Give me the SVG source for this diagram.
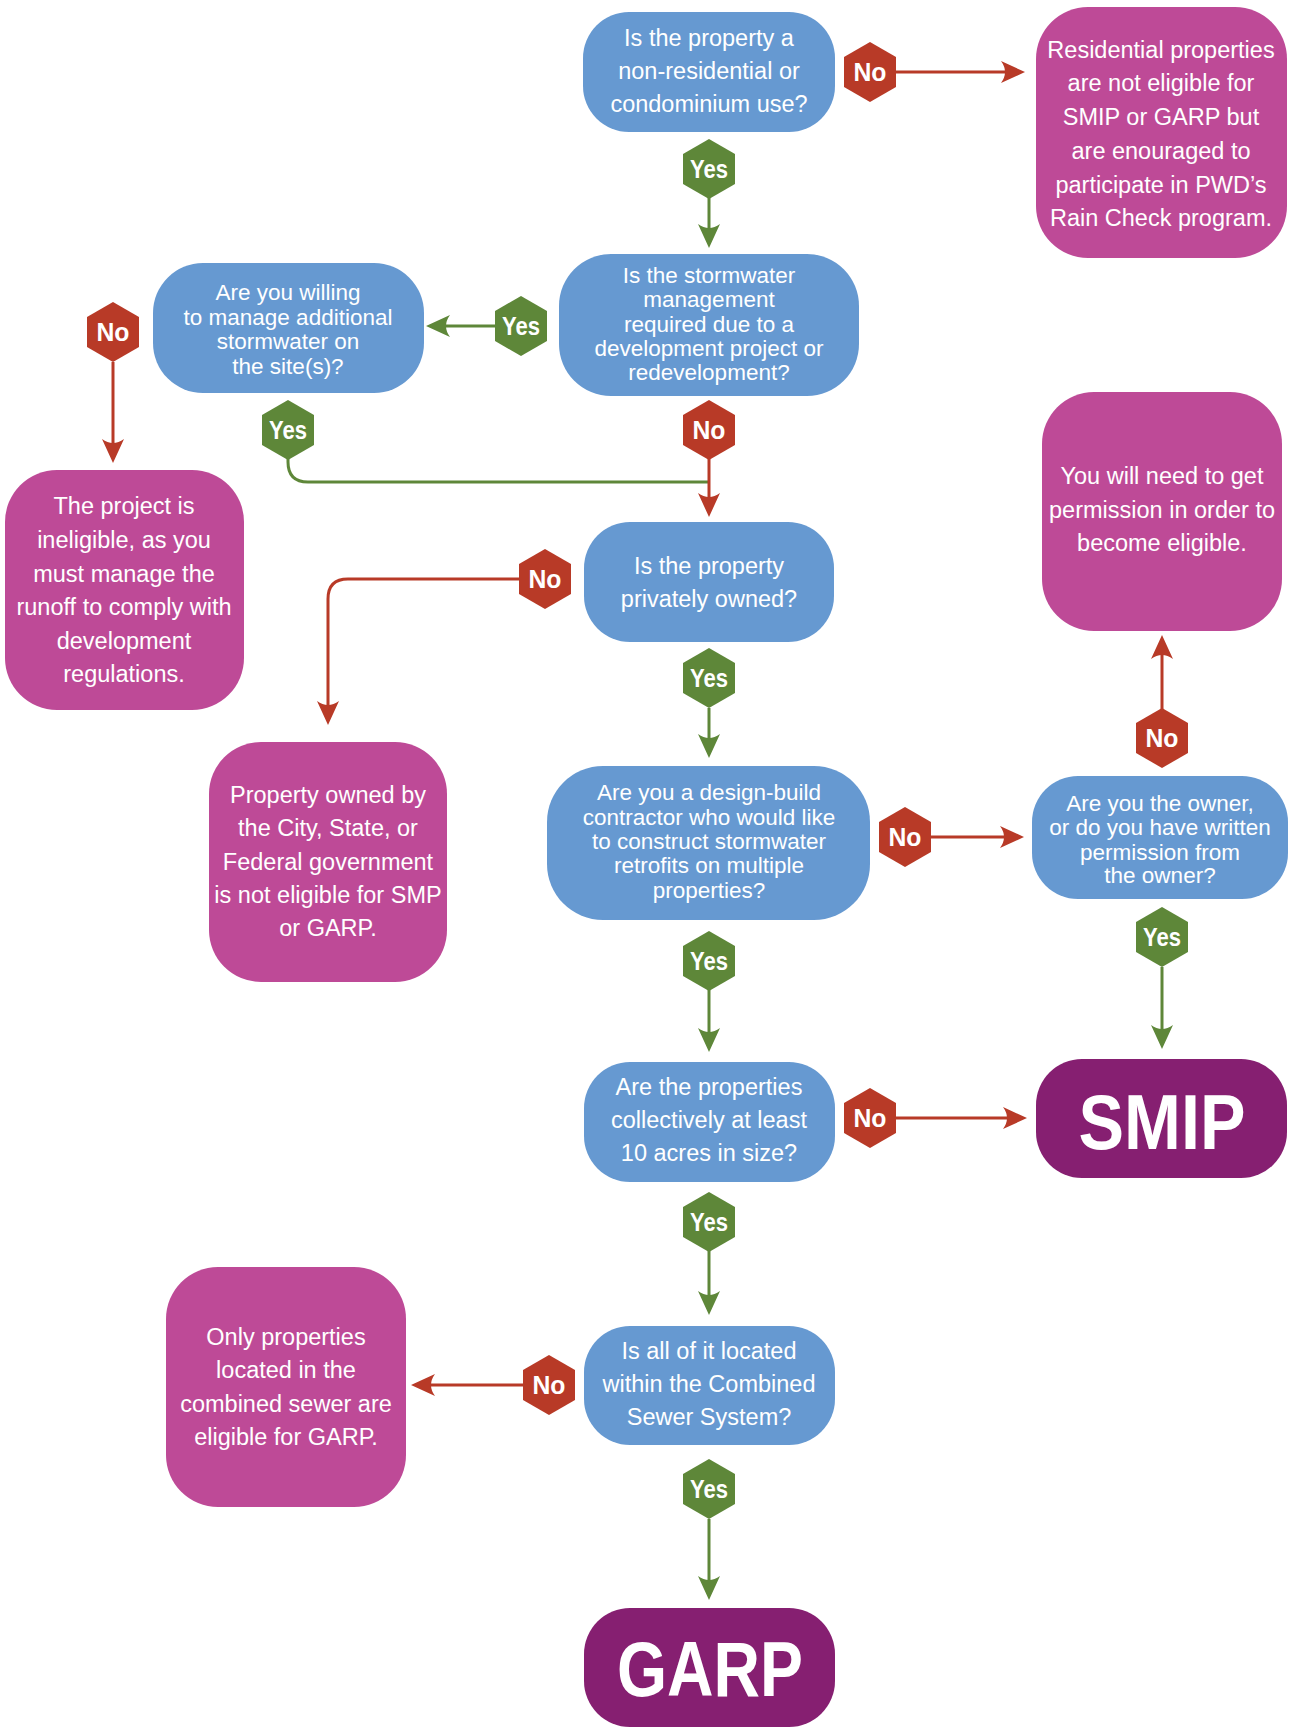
<svg xmlns="http://www.w3.org/2000/svg" xmlns:xlink="http://www.w3.org/1999/xlink" width="1290" height="1733" viewBox="0 0 1290 1733">
<style>
.q{fill:#6699D1}
.r{fill:#BE4A97}
.p{fill:#861F71}
.hn{fill:#B83A27}
.hy{fill:#5E8739}
.t{font-family:"Liberation Sans",Arial,sans-serif;fill:#fff;text-anchor:middle;font-size:23.5px}
.s{font-size:22.5px}
.h{font-family:"Liberation Sans",Arial,sans-serif;fill:#fff;text-anchor:middle;font-weight:bold;font-size:26px}
.big{font-family:"Liberation Sans",Arial,sans-serif;fill:#fff;text-anchor:middle;font-weight:bold;font-size:77px}
.lr{stroke:#B83A27;stroke-width:3;fill:none}
.lg{stroke:#5E8739;stroke-width:3;fill:none}
</style>
<defs>
<polygon id="hex" points="0,-30 26,-15 26,15 0,30 -26,15 -26,-15"/>
<marker id="ar" markerUnits="userSpaceOnUse" markerWidth="24" markerHeight="22" viewBox="0 0 24 22" refX="16" refY="11" orient="auto"><path d="M24,11 L0,0 Q8,11 0,22 Z" fill="#B83A27"/></marker>
<marker id="ag" markerUnits="userSpaceOnUse" markerWidth="24" markerHeight="22" viewBox="0 0 24 22" refX="16" refY="11" orient="auto"><path d="M24,11 L0,0 Q8,11 0,22 Z" fill="#5E8739"/></marker>
</defs>
<rect width="1290" height="1733" fill="#fff"/>

<g id="connectors">
<path class="lr" d="M896,72 H1017" marker-end="url(#ar)"/>
<path class="lg" d="M709,198 V240" marker-end="url(#ag)"/>
<path class="lg" d="M495,326 H434" marker-end="url(#ag)"/>
<path class="lr" d="M113,362 V455" marker-end="url(#ar)"/>
<path class="lg" d="M288,459 V462 Q288,482 308,482 H709"/>
<path class="lr" d="M709,459 V509" marker-end="url(#ar)"/>
<path class="lr" d="M519,579 H348 Q328,579 328,599 V717" marker-end="url(#ar)"/>
<path class="lg" d="M709,708 V750" marker-end="url(#ag)"/>
<path class="lr" d="M931,837 H1016" marker-end="url(#ar)"/>
<path class="lr" d="M1162,709 V643" marker-end="url(#ar)"/>
<path class="lg" d="M1162,967 V1041" marker-end="url(#ag)"/>
<path class="lg" d="M709,990 V1044" marker-end="url(#ag)"/>
<path class="lr" d="M896,1118 H1019" marker-end="url(#ar)"/>
<path class="lg" d="M709,1251 V1307" marker-end="url(#ag)"/>
<path class="lr" d="M523,1385 H419" marker-end="url(#ar)"/>
<path class="lg" d="M709,1519 V1592" marker-end="url(#ag)"/>
</g>

<g id="q1">
<rect class="q" x="583" y="12" width="252" height="120" rx="46"/>
<text class="t"><tspan x="709" y="46">Is the property a</tspan><tspan x="709" y="79">non-residential or</tspan><tspan x="709" y="112">condominium use?</tspan></text>
</g>
<g id="h1no"><use href="#hex" xlink:href="#hex" class="hn" x="870" y="72"/><text class="h" x="870" y="81" textLength="33" lengthAdjust="spacingAndGlyphs">No</text></g>
<g id="residential">
<rect class="r" x="1036" y="7" width="251" height="251" rx="52"/>
<text class="t"><tspan x="1161" y="58">Residential properties</tspan><tspan x="1161" y="91">are not eligible for</tspan><tspan x="1161" y="125">SMIP or GARP but</tspan><tspan x="1161" y="159">are enouraged to</tspan><tspan x="1161" y="193">participate in PWD’s</tspan><tspan x="1161" y="226">Rain Check program.</tspan></text>
</g>
<g id="h1yes"><use href="#hex" xlink:href="#hex" class="hy" x="709" y="169"/><text class="h" x="709" y="178" textLength="38" lengthAdjust="spacingAndGlyphs">Yes</text></g>

<g id="q2">
<rect class="q" x="559" y="254" width="300" height="142" rx="52"/>
<text class="t s"><tspan x="709" y="283">Is the stormwater</tspan><tspan x="709" y="307">management</tspan><tspan x="709" y="332">required due to a</tspan><tspan x="709" y="356">development project or</tspan><tspan x="709" y="380">redevelopment?</tspan></text>
</g>
<g id="h2yes"><use href="#hex" xlink:href="#hex" class="hy" x="521" y="326"/><text class="h" x="521" y="335" textLength="38" lengthAdjust="spacingAndGlyphs">Yes</text></g>
<g id="h2no"><use href="#hex" xlink:href="#hex" class="hn" x="709" y="430"/><text class="h" x="709" y="439" textLength="33" lengthAdjust="spacingAndGlyphs">No</text></g>

<g id="q3">
<rect class="q" x="153" y="263" width="271" height="130" rx="50"/>
<text class="t s"><tspan x="288" y="300">Are you willing</tspan><tspan x="288" y="325">to manage additional</tspan><tspan x="288" y="349">stormwater on</tspan><tspan x="288" y="374">the site(s)?</tspan></text>
</g>
<g id="h3no"><use href="#hex" xlink:href="#hex" class="hn" x="113" y="332"/><text class="h" x="113" y="341" textLength="33" lengthAdjust="spacingAndGlyphs">No</text></g>
<g id="h3yes"><use href="#hex" xlink:href="#hex" class="hy" x="288" y="430"/><text class="h" x="288" y="439" textLength="38" lengthAdjust="spacingAndGlyphs">Yes</text></g>

<g id="ineligible">
<rect class="r" x="5" y="470" width="239" height="240" rx="52"/>
<text class="t"><tspan x="124" y="514">The project is</tspan><tspan x="124" y="548">ineligible, as you</tspan><tspan x="124" y="582">must manage the</tspan><tspan x="124" y="615">runoff to comply with</tspan><tspan x="124" y="649">development</tspan><tspan x="124" y="682">regulations.</tspan></text>
</g>

<g id="q4">
<rect class="q" x="584" y="522" width="250" height="120" rx="46"/>
<text class="t"><tspan x="709" y="574">Is the property</tspan><tspan x="709" y="607">privately owned?</tspan></text>
</g>
<g id="h4no"><use href="#hex" xlink:href="#hex" class="hn" x="545" y="579"/><text class="h" x="545" y="588" textLength="33" lengthAdjust="spacingAndGlyphs">No</text></g>
<g id="h4yes"><use href="#hex" xlink:href="#hex" class="hy" x="709" y="678"/><text class="h" x="709" y="687" textLength="38" lengthAdjust="spacingAndGlyphs">Yes</text></g>

<g id="public">
<rect class="r" x="209" y="742" width="238" height="240" rx="52"/>
<text class="t"><tspan x="328" y="803">Property owned by</tspan><tspan x="328" y="836">the City, State, or</tspan><tspan x="328" y="870">Federal government</tspan><tspan x="328" y="903">is not eligible for SMP</tspan><tspan x="328" y="936">or GARP.</tspan></text>
</g>

<g id="permission">
<rect class="r" x="1042" y="392" width="240" height="239" rx="52"/>
<text class="t"><tspan x="1162" y="484">You will need to get</tspan><tspan x="1162" y="518">permission in order to</tspan><tspan x="1162" y="551">become eligible.</tspan></text>
</g>

<g id="q5">
<rect class="q" x="547" y="766" width="323" height="154" rx="56"/>
<text class="t s"><tspan x="709" y="800">Are you a design-build</tspan><tspan x="709" y="825">contractor who would like</tspan><tspan x="709" y="849">to construct stormwater</tspan><tspan x="709" y="873">retrofits on multiple</tspan><tspan x="709" y="898">properties?</tspan></text>
</g>
<g id="h5no"><use href="#hex" xlink:href="#hex" class="hn" x="905" y="837"/><text class="h" x="905" y="846" textLength="33" lengthAdjust="spacingAndGlyphs">No</text></g>
<g id="h5yes"><use href="#hex" xlink:href="#hex" class="hy" x="709" y="961"/><text class="h" x="709" y="970" textLength="38" lengthAdjust="spacingAndGlyphs">Yes</text></g>

<g id="q6">
<rect class="q" x="1032" y="776" width="256" height="123" rx="46"/>
<text class="t s"><tspan x="1160" y="811">Are you the owner,</tspan><tspan x="1160" y="835">or do you have written</tspan><tspan x="1160" y="860">permission from</tspan><tspan x="1160" y="883">the owner?</tspan></text>
</g>
<g id="h6no"><use href="#hex" xlink:href="#hex" class="hn" x="1162" y="738"/><text class="h" x="1162" y="747" textLength="33" lengthAdjust="spacingAndGlyphs">No</text></g>
<g id="h6yes"><use href="#hex" xlink:href="#hex" class="hy" x="1162" y="937"/><text class="h" x="1162" y="946" textLength="38" lengthAdjust="spacingAndGlyphs">Yes</text></g>

<g id="smip">
<rect class="p" x="1036" y="1059" width="251" height="119" rx="46"/>
<text class="big" x="1162" y="1149" textLength="167" lengthAdjust="spacingAndGlyphs">SMIP</text>
</g>

<g id="q7">
<rect class="q" x="584" y="1062" width="251" height="120" rx="46"/>
<text class="t"><tspan x="709" y="1095">Are the properties</tspan><tspan x="709" y="1128">collectively at least</tspan><tspan x="709" y="1161">10 acres in size?</tspan></text>
</g>
<g id="h7no"><use href="#hex" xlink:href="#hex" class="hn" x="870" y="1118"/><text class="h" x="870" y="1127" textLength="33" lengthAdjust="spacingAndGlyphs">No</text></g>
<g id="h7yes"><use href="#hex" xlink:href="#hex" class="hy" x="709" y="1222"/><text class="h" x="709" y="1231" textLength="38" lengthAdjust="spacingAndGlyphs">Yes</text></g>

<g id="q8">
<rect class="q" x="584" y="1326" width="251" height="119" rx="46"/>
<text class="t"><tspan x="709" y="1359">Is all of it located</tspan><tspan x="709" y="1392">within the Combined</tspan><tspan x="709" y="1425">Sewer System?</tspan></text>
</g>
<g id="h8no"><use href="#hex" xlink:href="#hex" class="hn" x="549" y="1385"/><text class="h" x="549" y="1394" textLength="33" lengthAdjust="spacingAndGlyphs">No</text></g>
<g id="h8yes"><use href="#hex" xlink:href="#hex" class="hy" x="709" y="1489"/><text class="h" x="709" y="1498" textLength="38" lengthAdjust="spacingAndGlyphs">Yes</text></g>

<g id="combined">
<rect class="r" x="166" y="1267" width="240" height="240" rx="52"/>
<text class="t"><tspan x="286" y="1345">Only properties</tspan><tspan x="286" y="1378">located in the</tspan><tspan x="286" y="1412">combined sewer are</tspan><tspan x="286" y="1445">eligible for GARP.</tspan></text>
</g>

<g id="garp">
<rect class="p" x="584" y="1608" width="251" height="119" rx="46"/>
<text class="big" x="710" y="1696" textLength="186" lengthAdjust="spacingAndGlyphs">GARP</text>
</g>
</svg>
